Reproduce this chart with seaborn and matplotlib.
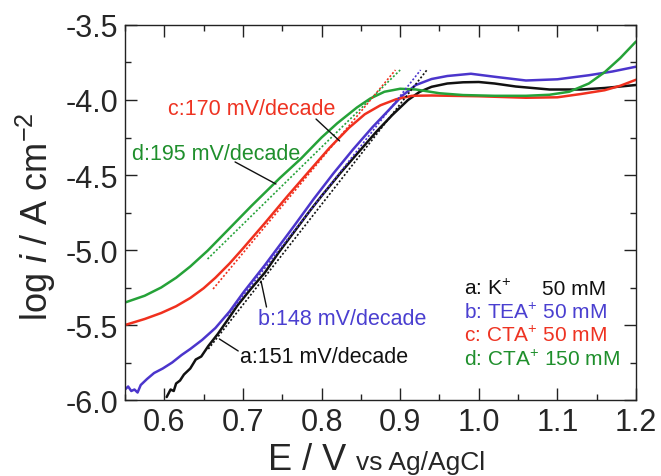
import numpy as np
import pandas as pd
import seaborn as sns
import matplotlib
matplotlib.use("Agg")
import matplotlib.pyplot as plt
from matplotlib.ticker import MultipleLocator, FormatStrFormatter

# Courbes (E / V, log i)
E_a = [0.603, 0.608, 0.612, 0.615, 0.620, 0.625, 0.633, 0.640, 0.647, 0.656, 0.668,
       0.680, 0.693, 0.710, 0.728, 0.745, 0.765, 0.785, 0.800, 0.825, 0.850, 0.870,
       0.890, 0.910, 0.925, 0.940, 0.960, 0.980, 1.000, 1.020, 1.047, 1.090, 1.130,
       1.160, 1.200]
log_a = [-5.98, -5.93, -5.94, -5.89, -5.87, -5.83, -5.79, -5.73, -5.71, -5.64, -5.56,
         -5.47, -5.37, -5.26, -5.15, -5.02, -4.88, -4.74, -4.64, -4.48, -4.33, -4.21,
         -4.10, -4.00, -3.945, -3.912, -3.89, -3.882, -3.88, -3.89, -3.91, -3.93, -3.93,
         -3.92, -3.90]

E_b = [0.550, 0.554, 0.558, 0.562, 0.566, 0.570, 0.578, 0.587, 0.598, 0.610, 0.622,
       0.633, 0.648, 0.665, 0.683, 0.701, 0.728, 0.765, 0.790, 0.815, 0.840, 0.865,
       0.885, 0.903, 0.920, 0.940, 0.960, 0.990, 1.020, 1.060, 1.100, 1.140, 1.170,
       1.200]
log_b = [-5.93, -5.91, -5.94, -5.93, -5.95, -5.90, -5.86, -5.82, -5.79, -5.75, -5.70,
         -5.66, -5.60, -5.52, -5.41, -5.28, -5.10, -4.84, -4.66, -4.49, -4.33, -4.18,
         -4.07, -3.97, -3.90, -3.86, -3.84, -3.825, -3.845, -3.87, -3.862, -3.835, -3.81,
         -3.778]

E_c = [0.550, 0.575, 0.596, 0.615, 0.633, 0.650, 0.665, 0.683, 0.700, 0.728, 0.756,
       0.785, 0.810, 0.835, 0.855, 0.875, 0.895, 0.915, 0.940, 1.000, 1.060, 1.100,
       1.130, 1.160, 1.180, 1.200]
log_c = [-5.50, -5.46, -5.42, -5.375, -5.32, -5.255, -5.185, -5.09, -4.99, -4.82, -4.645,
         -4.47, -4.32, -4.185, -4.095, -4.035, -3.995, -3.972, -3.97, -3.975, -3.985, -3.982,
         -3.96, -3.935, -3.905, -3.865]

E_d = [0.550, 0.575, 0.596, 0.615, 0.633, 0.655, 0.678, 0.711, 0.747, 0.774, 0.800,
       0.820, 0.845, 0.862, 0.880, 0.900, 0.920, 0.950, 0.980, 1.020, 1.060, 1.090,
       1.115, 1.140, 1.160, 1.180, 1.200]
log_d = [-5.35, -5.305, -5.25, -5.185, -5.11, -5.005, -4.882, -4.705, -4.52, -4.39, -4.25,
         -4.155, -4.05, -3.99, -3.945, -3.925, -3.93, -3.955, -3.967, -3.972, -3.972, -3.965,
         -3.945, -3.89, -3.815, -3.72, -3.61]

# Droites de Tafel (extrémités lues)
fit_E = {"a": [0.656, 0.934], "b": [0.680, 0.926], "c": [0.662, 0.894], "d": [0.655, 0.900]}
fit_log = {"a": [-5.66, -3.80], "b": [-5.44, -3.80], "c": [-5.26, -3.80], "d": [-5.06, -3.80]}

pentes = {"a": 151, "b": 148, "c": 170, "d": 195}
legende = [("a: K$^{+}$", "50 mM"), ("b: TEA$^{+}$ 50 mM", ""),
           ("c: CTA$^{+}$ 50 mM", ""), ("d: CTA$^{+}$ 150 mM", "")]

couleurs = {"a": "#111111", "b": "#4b35cc", "c": "#f0301e", "d": "#25a238"}
couleurs_txt = {"a": "#111111", "b": "#4a3fd0", "c": "#ee3322", "d": "#1f8f2c"}

sns.set_theme(style="ticks")
plt.rcParams["font.family"] = ["Liberation Sans", "DejaVu Sans"]
plt.rcParams["mathtext.fontset"] = "custom"
plt.rcParams["mathtext.rm"] = "Liberation Sans"
plt.rcParams["mathtext.it"] = "Liberation Sans:italic"

fig = plt.figure(figsize=(6.61, 4.77), dpi=100)
ax = fig.add_axes([0.1891, 0.1593, 0.7731, 0.7862])

courbes = {"a": (E_a, log_a), "b": (E_b, log_b), "c": (E_c, log_c), "d": (E_d, log_d)}
for k in ["a", "b", "c", "d"]:
    E, lg = courbes[k]
    df = pd.DataFrame({"E": E, "log": lg})
    sns.lineplot(data=df, x="E", y="log", ax=ax, color=couleurs[k], lw=1.8, sort=False,
                 estimator=None)
for k in ["a", "b", "c", "d"]:
    ax.plot(fit_E[k], fit_log[k], ls=(0, (1.2, 1.2)), lw=1.2, color=couleurs[k])

ax.set_xlim(0.55, 1.2)
ax.set_ylim(-6.0, -3.5)
ax.xaxis.set_major_locator(MultipleLocator(0.1))
ax.xaxis.set_minor_locator(MultipleLocator(0.05))
ax.yaxis.set_major_locator(MultipleLocator(0.5))
ax.yaxis.set_minor_locator(MultipleLocator(0.25))
ax.xaxis.set_major_formatter(FormatStrFormatter("%.1f"))
ax.yaxis.set_major_formatter(FormatStrFormatter("%.1f"))
ax.tick_params(which="both", direction="in", top=True, right=True, width=1, color="#222222")
ax.tick_params(which="major", length=8.5, labelsize=22, pad=5)
ax.tick_params(which="minor", length=4.3)
for s in ax.spines.values():
    s.set_linewidth(1.0)
    s.set_color("#222222")
ax.set_xlabel("")
ax.set_ylabel("")

# Annotations des pentes
annot = {
    "c": ((0.605, -4.093), (0.793, -4.127), (0.823, -4.273)),
    "d": ((0.559, -4.393), (0.690, -4.413), (0.742, -4.560)),
    "b": ((0.719, -5.493), (0.730, -5.380), (0.723, -5.207)),
    "a": ((0.696, -5.747), (0.694, -5.673), (0.670, -5.593)),
}
for k, (pos_txt, p0, p1) in annot.items():
    ax.text(pos_txt[0], pos_txt[1], f"{k}:{pentes[k]} mV/decade", color=couleurs_txt[k],
            fontsize=15.5, ha="left", va="baseline")
    ax.plot([p0[0], p1[0]], [p0[1], p1[1]], color="#111111", lw=1.0)

# Légende écrite à la main
lignes_y = [-5.293, -5.453, -5.607, -5.767]
for (lab, extra), yy, k in zip(legende, lignes_y, ["a", "b", "c", "d"]):
    ax.text(0.981, yy, lab, color=couleurs_txt[k], fontsize=15, ha="left", va="baseline")
    if extra:
        ax.text(1.081, yy, extra, color=couleurs_txt[k], fontsize=15, ha="left", va="baseline")

fig.text(268 / 661, 1 - 470 / 477, "E / V", fontsize=26, ha="left", va="baseline")
fig.text(356 / 661, 1 - 470 / 477, "vs Ag/AgCl", fontsize=19, ha="left", va="baseline")
fig.text(36 / 661, 1 - 217 / 477, "log $\\it{i}$ / A cm$^{-2}$", fontsize=26, rotation=90,
         ha="center", va="center")

fig.savefig("out.png", dpi=100)
